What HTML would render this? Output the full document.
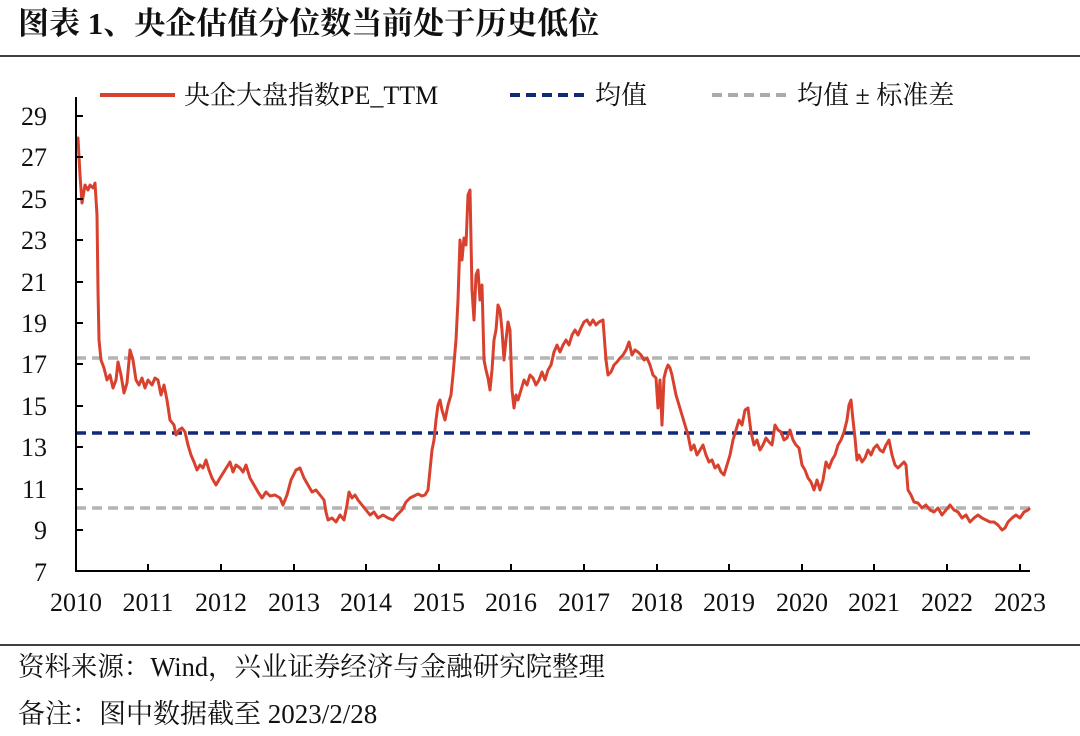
<!DOCTYPE html>
<html><head><meta charset="utf-8"><style>
body{margin:0;background:#fff;width:1080px;height:736px;overflow:hidden;}
svg{display:block}
text{font-family:"Liberation Serif","Noto Serif CJK SC",serif;fill:#111;}
</style></head><body>
<svg width="1080" height="736" viewBox="0 0 1080 736">
<text x="18" y="34" font-size="31" font-weight="bold">图表 1、央企估值分位数当前处于历史低位</text>
<line x1="0" y1="56" x2="1080" y2="56" stroke="#000" stroke-width="1.5"/>
<line x1="100" y1="95" x2="175" y2="95" stroke="#d9412f" stroke-width="4"/>
<text x="184" y="104" font-size="26">央企大盘指数PE_TTM</text>
<line x1="510" y1="95" x2="585" y2="95" stroke="#0f2a7a" stroke-width="4" stroke-dasharray="10,6"/>
<text x="595" y="104" font-size="26">均值</text>
<line x1="712" y1="95" x2="788" y2="95" stroke="#aaaaaa" stroke-width="4" stroke-dasharray="10,6"/>
<text x="797" y="104" font-size="26">均值 ± 标准差</text>
<line x1="76" y1="358" x2="1030" y2="358" stroke="#b4b4b4" stroke-width="3.5" stroke-dasharray="10,6"/>
<line x1="76" y1="508" x2="1030" y2="508" stroke="#b4b4b4" stroke-width="3.5" stroke-dasharray="10,6"/>
<line x1="76" y1="433" x2="1030" y2="433" stroke="#0f2a7a" stroke-width="3.5" stroke-dasharray="10,6"/>
<polyline fill="none" stroke="#d9412f" stroke-width="3" stroke-linejoin="round" points="76,140 78,138 80,175 82,203 85,185 88,190 90,185 93,188 95,183 97,215 98,290 99,340 101,360 104,368 107,380 110,375 113,388 116,380 118,362 121,375 124,393 127,383 130,350 133,360 136,380 139,385 142,378 145,388 148,380 152,385 155,378 158,380 161,395 164,385 167,400 170,420 174,425 176,435 179,430 182,428 185,432 188,445 191,455 194,462 197,470 200,465 203,468 206,460 209,470 212,478 216,485 220,478 225,470 230,462 233,472 236,465 240,468 243,472 246,465 250,478 254,485 258,492 262,498 266,492 270,496 275,495 280,498 283,505 287,495 291,480 296,470 300,468 304,478 308,485 312,492 316,490 320,495 324,500 326,512 328,520 332,518 336,522 340,515 344,520 347,505 349,492 352,498 355,495 358,500 362,505 366,510 370,515 374,512 378,518 383,515 388,518 393,520 397,515 402,510 406,502 410,498 414,496 418,494 422,496 425,495 428,490 430,470 432,450 434,440 436,420 438,405 440,400 442,410 445,420 448,405 451,395 453,375 456,340 458,300 460,240 462,260 464,238 466,245 468,195 470,190 472,290 474,320 476,275 478,270 480,300 482,285 484,360 486,370 488,378 490,390 492,370 494,340 496,330 498,305 500,310 502,330 504,360 506,340 508,322 510,330 512,390 514,408 516,395 518,400 521,390 524,380 527,385 530,375 533,378 536,385 539,380 542,372 545,380 548,370 551,365 554,352 557,345 560,352 563,345 566,340 569,345 572,335 575,330 578,335 581,328 584,322 587,320 590,325 593,320 596,325 599,322 603,320 606,360 608,375 611,372 614,365 617,362 620,358 623,355 626,350 629,342 632,355 635,350 638,352 641,355 644,360 647,358 650,365 653,375 656,378 658,408 660,380 662,425 664,378 666,370 668,365 670,368 672,375 674,385 676,395 679,405 682,415 685,425 688,435 691,450 694,445 697,455 700,450 703,445 706,455 709,462 712,460 715,468 718,465 721,472 724,475 727,465 730,455 733,440 736,430 739,420 742,425 745,410 748,408 751,432 754,445 757,440 760,450 763,445 766,438 769,442 772,445 775,425 778,430 781,432 784,440 787,438 790,430 793,440 796,445 799,448 802,465 805,470 808,478 811,482 814,490 817,480 820,490 823,480 826,462 829,468 832,460 835,455 838,445 841,440 844,432 847,420 849,405 851,400 853,420 855,438 857,460 859,455 862,462 865,458 868,450 871,455 874,448 877,445 880,450 883,452 886,445 889,440 892,455 895,465 898,468 901,465 904,462 906,465 908,490 911,495 914,502 918,503 922,508 926,505 930,510 934,512 938,508 942,515 946,510 950,505 954,510 958,512 962,518 966,515 970,522 974,518 978,515 982,518 986,520 990,522 994,522 998,525 1002,530 1005,528 1008,522 1012,518 1016,515 1020,518 1024,512 1028,510 1030,508"/>
<g stroke="#000" stroke-width="2">
<line x1="76" y1="97" x2="76" y2="571"/>
<line x1="75" y1="571" x2="1030" y2="571"/>
<line x1="76" y1="116" x2="83" y2="116"/><line x1="76" y1="157" x2="83" y2="157"/><line x1="76" y1="199" x2="83" y2="199"/><line x1="76" y1="240" x2="83" y2="240"/><line x1="76" y1="282" x2="83" y2="282"/><line x1="76" y1="323" x2="83" y2="323"/><line x1="76" y1="364" x2="83" y2="364"/><line x1="76" y1="406" x2="83" y2="406"/><line x1="76" y1="447" x2="83" y2="447"/><line x1="76" y1="489" x2="83" y2="489"/><line x1="76" y1="530" x2="83" y2="530"/>
<line x1="148" y1="564" x2="148" y2="571"/><line x1="221" y1="564" x2="221" y2="571"/><line x1="294" y1="564" x2="294" y2="571"/><line x1="366" y1="564" x2="366" y2="571"/><line x1="439" y1="564" x2="439" y2="571"/><line x1="511" y1="564" x2="511" y2="571"/><line x1="584" y1="564" x2="584" y2="571"/><line x1="657" y1="564" x2="657" y2="571"/><line x1="729" y1="564" x2="729" y2="571"/><line x1="802" y1="564" x2="802" y2="571"/><line x1="874" y1="564" x2="874" y2="571"/><line x1="947" y1="564" x2="947" y2="571"/><line x1="1020" y1="564" x2="1020" y2="571"/>
</g>
<g font-size="26" text-anchor="end">
<text x="47" y="125">29</text><text x="47" y="166">27</text><text x="47" y="208">25</text><text x="47" y="249">23</text><text x="47" y="291">21</text><text x="47" y="332">19</text><text x="47" y="373">17</text><text x="47" y="415">15</text><text x="47" y="456">13</text><text x="47" y="498">11</text><text x="47" y="539">9</text><text x="47" y="581">7</text>
</g>
<g font-size="26" text-anchor="middle">
<text x="76" y="611">2010</text><text x="148" y="611">2011</text><text x="221" y="611">2012</text><text x="294" y="611">2013</text><text x="366" y="611">2014</text><text x="439" y="611">2015</text><text x="511" y="611">2016</text><text x="584" y="611">2017</text><text x="657" y="611">2018</text><text x="729" y="611">2019</text><text x="802" y="611">2020</text><text x="874" y="611">2021</text><text x="947" y="611">2022</text><text x="1020" y="611">2023</text>
</g>
<line x1="0" y1="645" x2="1080" y2="645" stroke="#000" stroke-width="1.5"/>
<text x="18" y="676" font-size="27" textLength="587" lengthAdjust="spacingAndGlyphs">资料来源：Wind，兴业证券经济与金融研究院整理</text>
<text x="18" y="723" font-size="27">备注：图中数据截至 2023/2/28</text>
</svg>
</body></html>
